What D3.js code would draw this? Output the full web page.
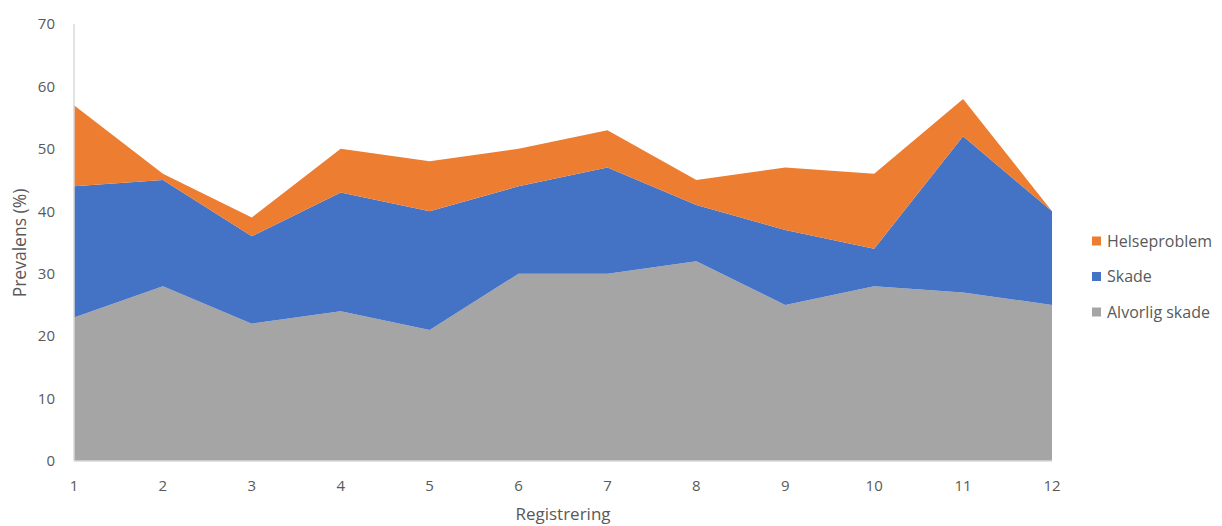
<!DOCTYPE html>
<html>
<head>
<meta charset="utf-8">
<script src="https://cdn.jsdelivr.net/npm/d3@7"></script>
<style>
  body { margin: 0; background: #fff; }
  svg { display: block; font-family: "Open Sans", "Noto Sans", sans-serif; }
</style>
</head>
<body>
<svg id="chart" width="1222" height="526"></svg>
<script>
// Registrations along the x axis
const registrations = [1, 2, 3, 4, 5, 6, 7, 8, 9, 10, 11, 12];

// Prevalence (%) per series, stacked bottom to top
const alvorligSkade = [23, 28, 22, 24, 21, 30, 30, 32, 25, 28, 27, 25];
const skade         = [21, 17, 14, 19, 19, 14, 17, 9, 12, 6, 25, 15];
const helseproblem  = [13, 1, 3, 7, 8, 6, 6, 4, 10, 12, 6, 0];

const seriesNames = ["Alvorlig skade", "Skade", "Helseproblem"];
const seriesColors = ["#a5a5a5", "#4472c4", "#ed7d31"];
const yTicks = [0, 10, 20, 30, 40, 50, 60, 70];

const rows = registrations.map((r, i) => ({
  reg: r,
  "Alvorlig skade": alvorligSkade[i],
  "Skade": skade[i],
  "Helseproblem": helseproblem[i]
}));

const svg = d3.select("#chart");
const x = d3.scaleLinear().domain([1, 12]).range([74, 1052]);
const y = d3.scaleLinear().domain([0, 70]).range([461, 24]);

const stack = d3.stack().keys(seriesNames);
const layers = stack(rows);

const area = d3.area()
  .x(d => x(d.data.reg))
  .y0(d => y(d[0]))
  .y1(d => y(d[1]));

svg.append("g")
  .selectAll("path")
  .data(layers)
  .join("path")
  .attr("d", area)
  .attr("fill", (d, i) => seriesColors[i]);

// Axis lines
const axisColor = "#d9d9d9";
svg.append("line")
  .attr("x1", x(1)).attr("x2", x(1))
  .attr("y1", y(70)).attr("y2", y(0))
  .attr("stroke", axisColor).attr("stroke-width", 1.5);
svg.append("line")
  .attr("x1", x(1)).attr("x2", x(12))
  .attr("y1", y(0)).attr("y2", y(0))
  .attr("stroke", axisColor).attr("stroke-width", 1.5);

const textColor = "#595959";

// Y tick labels
svg.append("g")
  .selectAll("text")
  .data(yTicks)
  .join("text")
  .attr("x", 55)
  .attr("y", d => y(d))
  .attr("dy", "0.35em")
  .attr("text-anchor", "end")
  .attr("font-size", 15)
  .attr("fill", textColor)
  .text(d => d);

// X tick labels
svg.append("g")
  .selectAll("text")
  .data(registrations)
  .join("text")
  .attr("x", d => x(d))
  .attr("y", 486)
  .attr("dy", "0.35em")
  .attr("text-anchor", "middle")
  .attr("font-size", 15)
  .attr("fill", textColor)
  .text(d => d);

// Axis titles
svg.append("text")
  .attr("x", 563)
  .attr("y", 514)
  .attr("dy", "0.35em")
  .attr("text-anchor", "middle")
  .attr("font-size", 17)
  .attr("fill", textColor)
  .text("Registrering");

svg.append("text")
  .attr("transform", "translate(20,243) rotate(-90)")
  .attr("dy", "0.35em")
  .attr("text-anchor", "middle")
  .attr("font-size", 17.5)
  .attr("fill", textColor)
  .text("Prevalens (%)");

// Legend (top series first)
const legendItems = seriesNames.map((n, i) => ({ name: n, color: seriesColors[i] })).reverse();
const legend = svg.append("g")
  .selectAll("g")
  .data(legendItems)
  .join("g")
  .attr("transform", (d, i) => `translate(1092,${241 + i * 35.5})`);
legend.append("rect")
  .attr("x", 0).attr("y", -4.5)
  .attr("width", 9).attr("height", 9)
  .attr("fill", d => d.color);
legend.append("text")
  .attr("x", 15)
  .attr("y", 0)
  .attr("dy", "0.35em")
  .attr("font-size", 16)
  .attr("fill", textColor)
  .text(d => d.name);
</script>
</body>
</html>
